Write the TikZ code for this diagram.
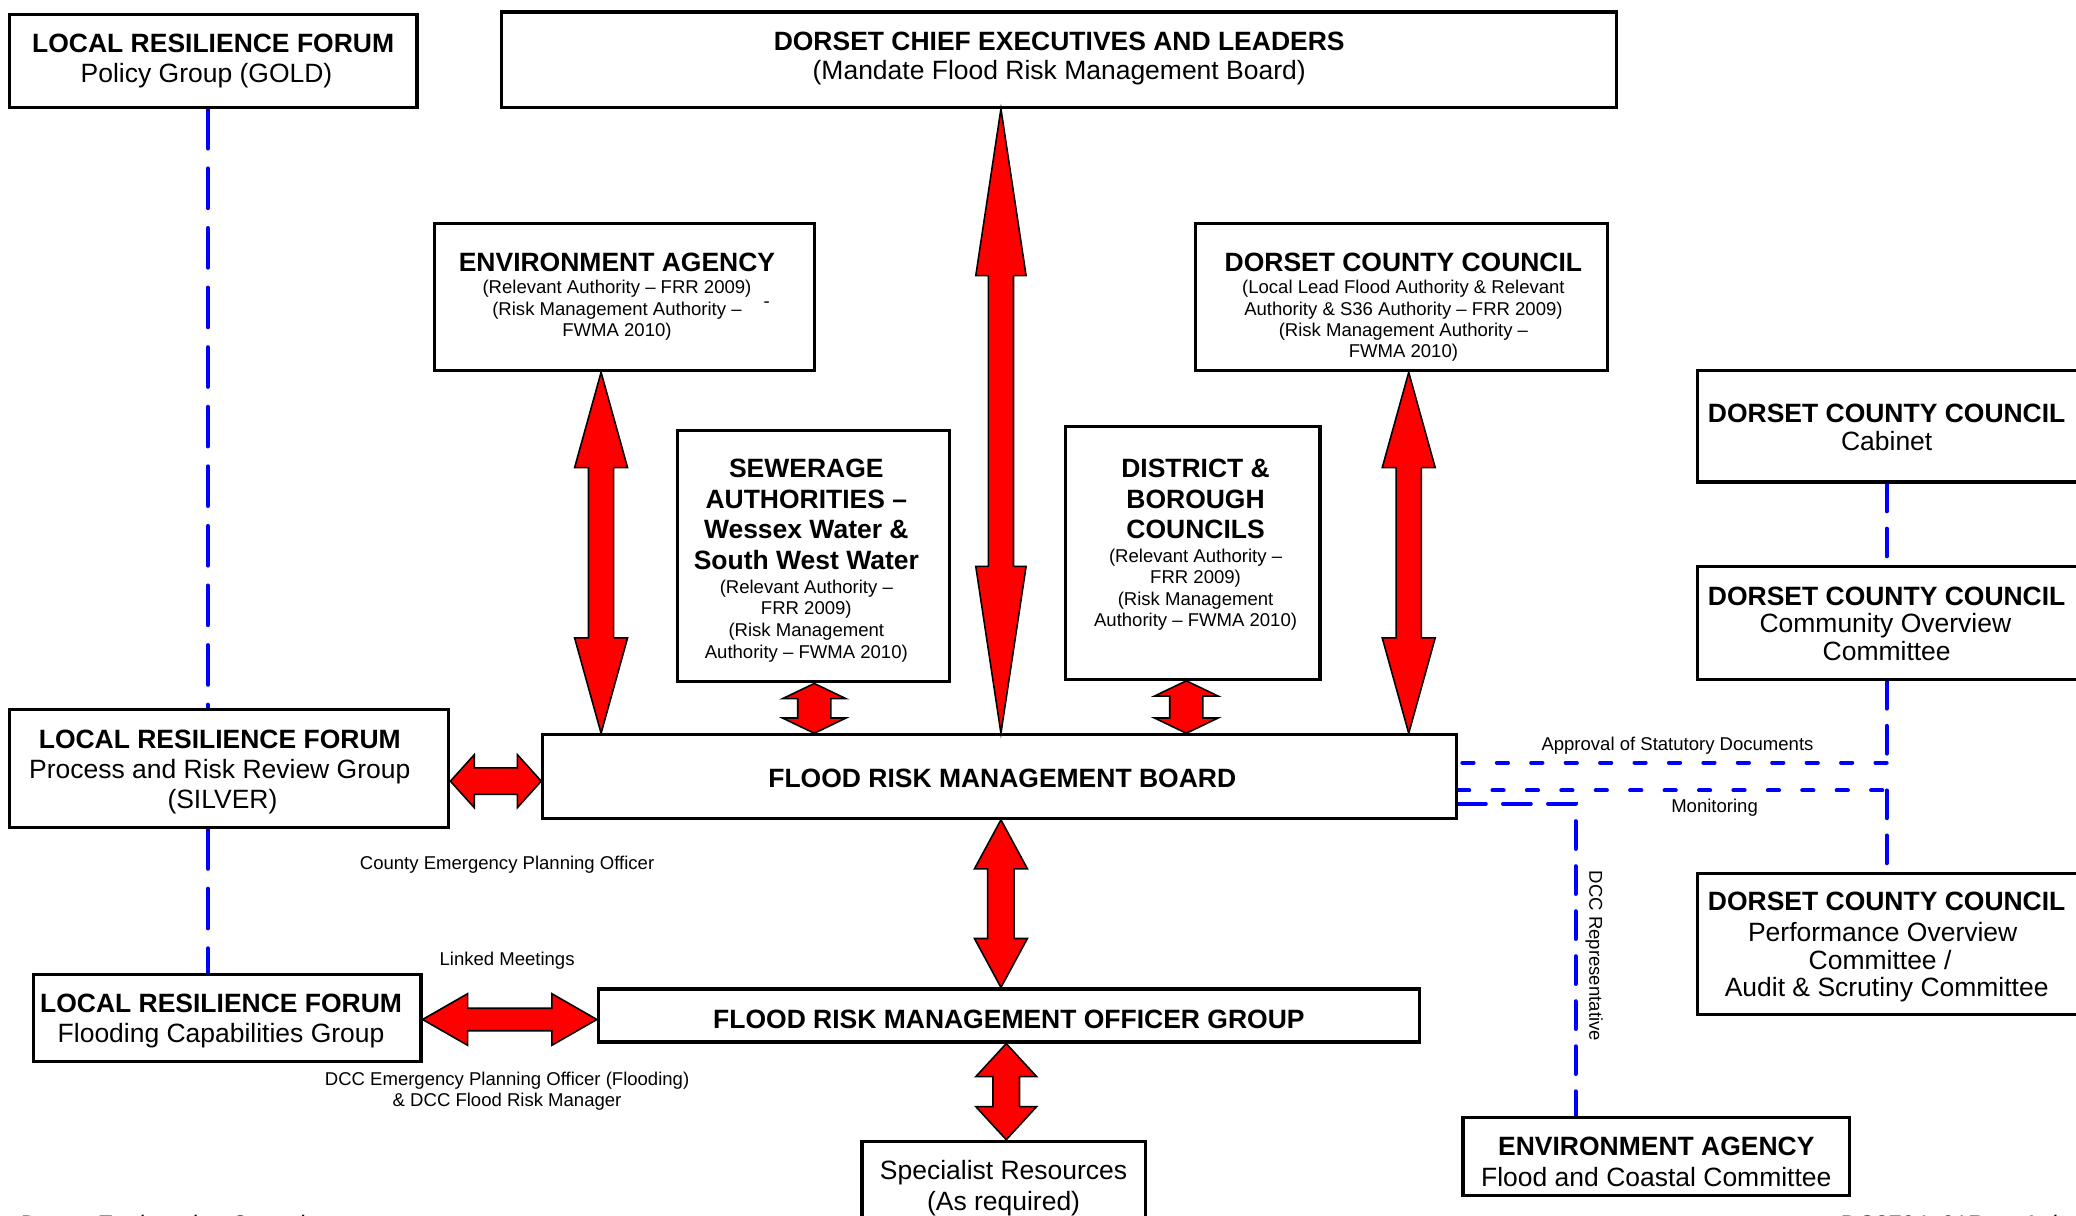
\documentclass[tikz,border=0pt]{standalone}
\usepackage{fontspec}
\setmainfont{Liberation Sans}
\usetikzlibrary{calc,fit,backgrounds}
\tikzset{
 box/.style={draw=black,line width=1.2pt,fill=white,inner sep=0pt},
 btxt/.style={font=\fontsize{10}{12}\selectfont\bfseries,anchor=base,inner sep=0pt,yshift=-0.5pt},
 rtxt/.style={font=\fontsize{10}{12}\selectfont,anchor=base,inner sep=0pt,yshift=-1pt},
 stxt/.style={font=\fontsize{7}{8}\selectfont,anchor=base,inner sep=0pt,yshift=-0.5pt},
 ftxt/.style={font=\fontsize{9}{10}\selectfont,anchor=base west,inner sep=0pt},
 redarrow/.style={fill=red,draw=black,line width=0.6pt,line join=miter},
 bluelink/.style={draw=blue,line width=1.5pt,line cap=round},
 longdash/.style={dash pattern=on 15pt off 7.5pt},
 middash/.style={dash pattern=on 10.5pt off 6.5pt},
 shortdash/.style={dash pattern=on 4.25pt off 8.75pt},
}
\newcommand\T[5]{\node[#1] (#2) at (#3,#4) {#5};}
% vertical double arrow: #1 top tip, #2 bottom tip, #3 head half width, #4 shaft half width, #5 head length
\newcommand\vdarrow[5]{\draw[redarrow] (#1) -- ($(#1)+(#3,#5)$) -- ($(#1)+(#4,#5)$) -- ($(#2)+(#4,-#5)$) -- ($(#2)+(#3,-#5)$) -- (#2) -- ($(#2)+(-#3,-#5)$) -- ($(#2)+(-#4,-#5)$) -- ($(#1)+(-#4,#5)$) -- ($(#1)+(-#3,#5)$) -- cycle;}
% horizontal double arrow: #1 left tip, #2 right tip
\newcommand\hdarrow[5]{\draw[redarrow] (#1) -- ($(#1)+(#5,-#3)$) -- ($(#1)+(#5,-#4)$) -- ($(#2)+(-#5,-#4)$) -- ($(#2)+(-#5,-#3)$) -- (#2) -- ($(#2)+(-#5,#3)$) -- ($(#2)+(-#5,#4)$) -- ($(#1)+(#5,#4)$) -- ($(#1)+(#5,#3)$) -- cycle;}
\begin{document}
\begin{tikzpicture}[x=0.5pt,y=-0.5pt]
\useasboundingbox (0,0) rectangle (1568,918);
\clip (0,0) rectangle (1568,918);
% boxes
\node[box,fit={(7,11)(315,81)}] (gold) {};
\node[box,fit={(379,9)(1221,81)}] (chief) {};
\node[box,fit={(328,169)(615,280)}] (ea) {};
\node[box,fit={(903,169)(1214,280)}] (dcc) {};
\node[box,fit={(512,325)(717,515)}] (sew) {};
\node[box,fit={(805,322)(997,513)}] (dist) {};
\node[box,fit={(1282,280)(1590,364)}] (cab) {};
\node[box,fit={(1282,428)(1590,513)}] (comm) {};
\node[box,fit={(1282,660)(1590,766)}] (perf) {};
\node[box,fit={(7,536)(339,625)}] (silver) {};
\node[box,fit={(410,555)(1100,618)}] (frmb) {};
\node[box,fit={(25,736)(318,802)}] (flood) {};
\node[box,fit={(452,747)(1072,787)}] (frmog) {};
\node[box,fit={(651,862)(865,940)}] (spec) {};
\node[box,fit={(1105,844)(1397,903)}] (eafc) {};
% helper coordinates
\coordinate (xL) at (157,0);
\coordinate (xC) at (756,0);
\coordinate (xEA) at (454,0);
\coordinate (xDC) at (1064,0);
\coordinate (xS) at (615,0);
\coordinate (xD) at (896,0);
\coordinate (xSp) at (760,0);
\coordinate (yS) at (0,590);
\coordinate (yF) at (0,770);
\coordinate (cA) at (1425,576);
\coordinate (cM) at (1425,597);
\coordinate (cR) at (1190,607);
% blue dashed links
\begin{pgfonlayer}{background}
\draw[bluelink,longdash] (gold.south -| xL) -- (silver.north -| xL);
\draw[bluelink,longdash] (silver.south -| xL) -- (flood.north -| xL);
\draw[bluelink,middash] (cab.south -| cA) -- (comm.north -| cA);
\draw[bluelink,middash] (comm.south -| cA) -- (cA);
\draw[bluelink,shortdash] (cA) -- (frmb.east |- cA);
\draw[bluelink,shortdash] (frmb.east |- cM) -- (cM);
\draw[bluelink,middash] (cM) -- (perf.north -| cM);
\draw[bluelink,middash] (frmb.east |- cR) -- (cR) -- (eafc.north -| cR);
\end{pgfonlayer}
% red double arrows
\coordinate (a1) at (chief.south -| xC); \coordinate (a2) at (frmb.north -| xC);
\vdarrow{a1}{a2}{19}{9.5}{126}
\coordinate (b1) at (ea.south -| xEA); \coordinate (b2) at (frmb.north -| xEA);
\vdarrow{b1}{b2}{20}{9.5}{72}
\coordinate (c1) at (dcc.south -| xDC); \coordinate (c2) at (frmb.north -| xDC);
\vdarrow{c1}{c2}{20}{9.5}{72}
\coordinate (d1) at (sew.south -| xS); \coordinate (d2) at (frmb.north -| xS);
\vdarrow{d1}{d2}{24}{12.5}{11.5}
\coordinate (e1) at (dist.south -| xD); \coordinate (e2) at (frmb.north -| xD);
\vdarrow{e1}{e2}{24}{12.5}{11.5}
\coordinate (f1) at (silver.east |- yS); \coordinate (f2) at (frmb.west |- yS);
\hdarrow{f1}{f2}{20}{10}{18}
\coordinate (g1) at (flood.east |- yF); \coordinate (g2) at (frmog.west |- yF);
\hdarrow{g1}{g2}{19.5}{8.5}{34}
\coordinate (h1) at (frmb.south -| xC); \coordinate (h2) at (frmog.north -| xC);
\vdarrow{h1}{h2}{20}{10}{37}
\coordinate (i1) at (frmog.south -| xSp); \coordinate (i2) at (spec.north -| xSp);
\vdarrow{i1}{i2}{23}{10}{25}
% texts
\T{btxt}{goldA}{161}{39}{LOCAL RESILIENCE FORUM}
\T{rtxt}{goldB}{156}{60}{Policy Group (GOLD)}
\T{btxt}{chiefA}{800}{37}{DORSET CHIEF EXECUTIVES AND LEADERS}
\T{rtxt}{chiefB}{800}{58}{(Mandate Flood Risk Management Board)}
\T{btxt}{eaA}{466}{204}{ENVIRONMENT AGENCY}
\T{stxt}{eaB}{466}{221}{(Relevant Authority – FRR 2009)}
\T{stxt}{eaC}{466}{237}{(Risk Management Authority –}
\T{stxt}{eaD}{466}{253}{FWMA 2010)}
\T{stxt}{eaE}{579}{231}{-}
\T{btxt}{dccA}{1060}{204}{DORSET COUNTY COUNCIL}
\T{stxt}{dccB}{1060}{221}{(Local Lead Flood Authority \& Relevant}
\T{stxt}{dccC}{1060}{237}{Authority \& S36 Authority – FRR 2009)}
\T{stxt}{dccD}{1060}{253}{(Risk Management Authority –}
\T{stxt}{dccE}{1060}{269}{FWMA 2010)}
\T{btxt}{sewA}{609}{360}{SEWERAGE}
\T{btxt}{sewB}{609}{383}{AUTHORITIES –}
\T{btxt}{sewC}{609}{406}{Wessex Water \&}
\T{btxt}{sewD}{609}{429}{South West Water}
\T{stxt}{sewE}{609}{447}{(Relevant Authority –}
\T{stxt}{sewF}{609}{463}{FRR 2009)}
\T{stxt}{sewG}{609}{480}{(Risk Management}
\T{stxt}{sewH}{609}{496}{Authority – FWMA 2010)}
\T{btxt}{distA}{903}{360}{DISTRICT \&}
\T{btxt}{distB}{903}{383}{BOROUGH}
\T{btxt}{distC}{903}{406}{COUNCILS}
\T{stxt}{distD}{903}{424}{(Relevant Authority –}
\T{stxt}{distE}{903}{440}{FRR 2009)}
\T{stxt}{distF}{903}{456}{(Risk Management}
\T{stxt}{distG}{903}{472}{Authority – FWMA 2010)}
\T{btxt}{cabA}{1425}{318}{DORSET COUNTY COUNCIL}
\T{rtxt}{cabB}{1425}{338}{Cabinet}
\T{btxt}{commA}{1425}{456}{DORSET COUNTY COUNCIL}
\T{rtxt}{commB}{1424}{476}{Community Overview}
\T{rtxt}{commC}{1425}{497}{Committee}
\T{btxt}{perfA}{1425}{687}{DORSET COUNTY COUNCIL}
\T{rtxt}{perfB}{1422}{709}{Performance Overview}
\T{rtxt}{perfC}{1420}{730}{Committee /}
\T{rtxt}{perfD}{1425}{751}{Audit \& Scrutiny Committee}
\T{btxt}{silA}{166}{564}{LOCAL RESILIENCE FORUM}
\T{rtxt}{silB}{166}{586}{Process and Risk Review Group}
\T{rtxt}{silC}{168}{609}{(SILVER)}
\T{btxt}{frmbA}{757}{594}{FLOOD RISK MANAGEMENT BOARD}
\T{btxt}{floodA}{167}{764}{LOCAL RESILIENCE FORUM}
\T{rtxt}{floodB}{167}{785}{Flooding Capabilities Group}
\T{btxt}{frmogA}{762}{776}{FLOOD RISK MANAGEMENT OFFICER GROUP}
\T{rtxt}{specA}{758}{889}{Specialist Resources}
\T{rtxt}{specB}{758}{912}{(As required)}
\T{btxt}{eafcA}{1251}{872}{ENVIRONMENT AGENCY}
\T{rtxt}{eafcB}{1251}{894}{Flood and Coastal Committee}
% connector labels
\T{stxt}{lab1}{383}{656}{County Emergency Planning Officer}
\T{stxt}{lab2}{383}{728}{Linked Meetings}
\T{stxt}{lab3}{383}{819}{DCC Emergency Planning Officer (Flooding)}
\T{stxt}{lab4}{383}{835}{\& DCC Flood Risk Manager}
\T{stxt}{lab5}{1267}{566}{Approval of Statutory Documents}
\T{stxt}{lab6}{1295}{613}{Monitoring}
\node[stxt,anchor=center,rotate=-90] (lab7) at (1204,721) {DCC Representative};
% footer (cut by the page edge)
\node[ftxt,font=\fontsize{9}{10}\selectfont\itshape] (foot1) at (14,931) {Dorset Engineering Consultancy};
\node[ftxt] (foot2) at (1390,931) {DC8704\_01Rev\_A\_lv};
\end{tikzpicture}
\end{document}
